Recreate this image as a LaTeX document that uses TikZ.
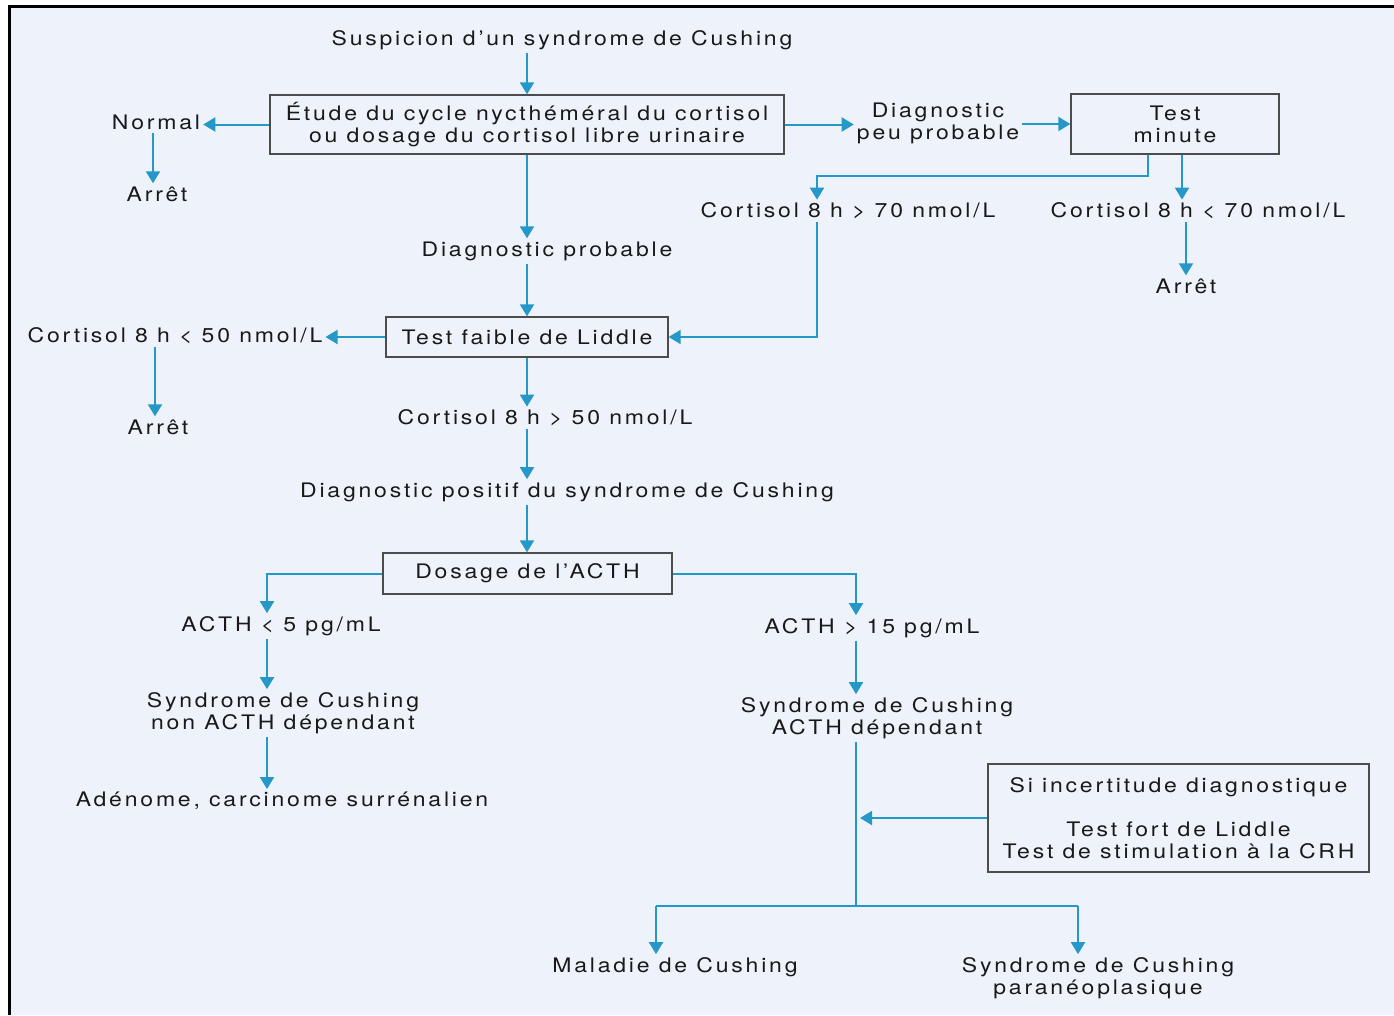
\documentclass[tikz,border=0pt]{standalone}
\usepackage{fontspec}
\setmainfont[LetterSpace=14,FakeStretch=1.15]{TeX Gyre Heros}
\usetikzlibrary{arrows.meta,positioning}
\definecolor{fleche}{RGB}{38,152,200}
\definecolor{fond}{RGB}{238,243,251}
\definecolor{encre}{RGB}{25,25,25}

\tikzset{
  txt/.style={font=\fontsize{20}{22}\selectfont, align=center, inner sep=3pt, text=encre},
  boite/.style={txt, draw=black!70, line width=1.3pt, inner sep=0pt},
  fl/.style={draw=fleche, line width=2pt, -{Triangle[width=14pt,length=12pt]}},
  trait/.style={draw=fleche, line width=2pt},
}

\begin{document}
\begin{tikzpicture}[x=1pt,y=-1pt]
  \useasboundingbox (0,0) rectangle (1394,1015);
  \fill[white] (0,0) rectangle (1394,1015);
  \fill[fond] (9,6) rectangle (1394,1015);
  \draw[black, line width=3pt] (9,1015) -- (9,6) -- (1394,6);

  % haut
  \node[txt] (susp) at (562,40) {Suspicion d'un syndrome de Cushing};
  \node[boite, minimum width=514pt, minimum height=59pt] (etude) at (527,124.5)
    {Étude du cycle nycthéméral du cortisol\\ou dosage du cortisol libre urinaire};
  \node[txt] (normal) at (156,122) {Normal};
  \node[txt] (arret1) at (157,194) {Arrêt};
  \node[txt] (peu) at (938,123) {Diagnostic\\peu probable};
  \node[boite, minimum width=208pt, minimum height=60pt] (minute) at (1175,124) {Test\\minute};
  \node[txt] (c70h) at (848,211) {Cortisol 8 h > 70 nmol/L};
  \node[txt] (c70b) at (1198,211) {Cortisol 8 h < 70 nmol/L};
  \node[txt] (arret3) at (1186,286) {Arrêt};
  \node[txt] (probable) at (547,251) {Diagnostic probable};

  % milieu
  \node[boite, minimum width=282pt, minimum height=40pt] (liddle) at (527,337) {Test faible de Liddle};
  \node[txt] (c50b) at (175,336) {Cortisol 8 h < 50 nmol/L};
  \node[txt] (arret2) at (158,427) {Arrêt};
  \node[txt] (c50h) at (545,418) {Cortisol 8 h > 50 nmol/L};
  \node[txt] (positif) at (567,492) {Diagnostic positif du syndrome de Cushing};
  \node[boite, minimum width=289pt, minimum height=41pt] (acth) at (527.5,573.5) {Dosage de l'ACTH};

  % bas
  \node[txt] (acthb) at (281,626) {ACTH < 5 pg/mL};
  \node[txt] (nondep) at (283,713) {Syndrome de Cushing\\non ACTH dépendant};
  \node[txt] (adenome) at (282,801) {Adénome, carcinome surrénalien};
  \node[txt] (acthh) at (872,628) {ACTH > 15 pg/mL};
  \node[txt] (dep) at (877,718) {Syndrome de Cushing\\ACTH dépendant};
  \node[boite, minimum width=381pt, minimum height=108pt] (incert) at (1178.5,818)
    {Si incertitude diagnostique\\[22pt]Test fort de Liddle\\Test de stimulation à la CRH};
  \node[txt] (maladie) at (675,967) {Maladie de Cushing};
  \node[txt] (parane) at (1098,978) {Syndrome de Cushing\\paranéoplasique};

  \coordinate (coude) at (817,176);
  \coordinate (axeg) at (267,0);
  \coordinate (axed) at (856,0);
  \coordinate (noeud) at (856,906);
  \coordinate (gauche) at (656,906);
  \coordinate (droite) at (1078,906);

  % connecteurs
  \draw[fl] (susp.south -| etude.north) -- (etude.north);
  \draw[fl] (etude.west) -- (etude.west -| normal.east);
  \draw[fl] (normal.south -| 153,0) -- (arret1.north -| 153,0);
  \draw[fl] (etude.east) -- (etude.east -| peu.west);
  \draw[fl] (minute.west -| peu.east) -- (minute.west);
  \draw[fl] ([xshift=-27pt]minute.south) |- (coude) -- (coude |- c70h.north);
  \draw[fl] ([xshift=7pt]minute.south) -- ([xshift=7pt]minute.south |- c70b.north);
  \draw[fl] (c70b.south -| arret3.north) -- (arret3.north);
  \draw[fl] (c70h.south -| coude) |- (liddle.east);
  \draw[fl] (etude.south) -- (etude.south |- probable.north);
  \draw[fl] (probable.south -| liddle.north) -- (liddle.north);
  \draw[fl] (liddle.west) -- (liddle.west -| c50b.east);
  \draw[fl] (c50b.south -| 155,0) -- (arret2.north -| 155,0);
  \draw[fl] (liddle.south) -- (liddle.south |- c50h.north);
  \draw[fl] (c50h.south -| liddle.south) -- (liddle.south |- positif.north);
  \draw[fl] (positif.south -| liddle.south) -- (liddle.south |- acth.north);
  \draw[fl] (acth.west) -| (axeg |- acthb.north);
  \draw[fl] (acthb.south -| axeg) -- (nondep.north -| axeg);
  \draw[fl] (nondep.south -| axeg) -- (adenome.north -| axeg);
  \draw[fl] (acth.east) -| (axed |- acthh.north);
  \draw[fl] (acthh.south -| axed) -- (dep.north -| axed);
  \draw[trait] (dep.south -| axed) -- (noeud);
  \draw[fl] (incert.west) -- ([xshift=4pt]incert.west -| axed);
  \draw[trait] (gauche) -- (droite);
  \draw[fl] (gauche) -- (gauche |- maladie.north);
  \draw[fl] (droite) -- (droite |- parane.north);
\end{tikzpicture}
\end{document}
